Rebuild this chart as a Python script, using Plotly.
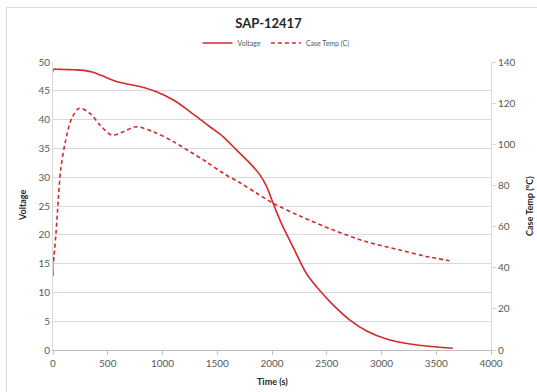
import plotly.graph_objects as go

# ---- data ----
time_voltage = [0, 5, 30, 100, 200, 280, 350, 450, 580, 700, 800, 950, 1100, 1250,
                1430, 1555, 1677, 1800, 1890, 1950, 2000, 2045, 2088, 2194, 2317,
                2438, 2560, 2712, 2865, 3047, 3260, 3450, 3650]
voltage = [12.8, 48.7, 48.75, 48.7, 48.65, 48.55, 48.3, 47.6, 46.6, 46.1, 45.7, 44.8,
           43.4, 41.4, 38.8, 37.0, 34.7, 32.4, 30.4, 28.4, 26.0, 23.8, 21.9, 17.8,
           13.2, 10.3, 7.8, 5.2, 3.3, 1.9, 1.04, 0.6, 0.3]

time_temp = [5, 10, 27, 48, 70, 110, 171, 240, 338, 429, 536, 642, 755, 916, 1099,
             1251, 1400, 1555, 1708, 1860, 2012, 2256, 2560, 2865, 3169, 3400, 3620]
case_temp = [43, 46, 56.7, 72.9, 87.5, 100.5, 112.6, 117.5, 115, 109.4, 104.5, 106.1,
             108.5, 106.1, 101.3, 96.4, 91.5, 85.9, 81.3, 76.2, 71.3, 65.1, 58.3,
             52.6, 48.6, 45.6, 43.4]

x_ticks = [0, 500, 1000, 1500, 2000, 2500, 3000, 3500, 4000]
y_ticks = [0, 5, 10, 15, 20, 25, 30, 35, 40, 45, 50]
y2_ticks = [0, 20, 40, 60, 80, 100, 120, 140]

RED = "#d02a2a"
FONT = "Lato, 'Open Sans', sans-serif"
TICKC = "#595959"
GRID = "#d9d9d9"
TITLEC = "#262626"

fig = go.Figure()
fig.add_trace(go.Scatter(x=time_voltage, y=voltage, name="Voltage", mode="lines",
                         line=dict(color=RED, width=1.6, shape="spline", smoothing=0.9)))
fig.add_trace(go.Scatter(x=time_temp, y=case_temp, name="Case Temp (C)", mode="lines",
                         yaxis="y2",
                         line=dict(color=RED, width=1.6, dash="4px,3px",
                                   shape="spline", smoothing=0.9)))

W, H = 537, 392
L, R, T, B = 53, 491, 62, 350
pw, ph = R - L, B - T

def px_x(p):
    return (p - L) / pw

def px_y(p):
    return (B - p) / ph

axis_title_font = dict(family=FONT, size=9, color=TITLEC)

fig.update_layout(
    width=W, height=H,
    margin=dict(l=L, r=W - R, t=T, b=H - B),
    paper_bgcolor="white", plot_bgcolor="white",
    font=dict(family=FONT, color=TICKC, size=10),
    title=dict(text="<b>SAP-12417</b>", x=0.5, xanchor="center",
               y=1 - 23 / H, yanchor="middle",
               font=dict(family=FONT, size=13, color=TITLEC)),
    showlegend=True,
    legend=dict(orientation="h", x=px_x(276), xanchor="center",
                y=px_y(43), yanchor="middle",
                font=dict(family=FONT, size=7, color=TICKC),
                bgcolor="rgba(0,0,0,0)", itemwidth=30, tracegroupgap=0),
    xaxis=dict(range=[0, 4000], tickvals=x_ticks, showgrid=False, zeroline=False,
               showline=True, linecolor="#bfbfbf", linewidth=1,
               ticks="outside", ticklen=4, tickcolor="#bfbfbf",
               tickfont=dict(size=10, color=TICKC)),
    yaxis=dict(range=[0, 50], tickvals=y_ticks, showgrid=True, gridcolor=GRID,
               gridwidth=1, zeroline=False, showline=True, linecolor=GRID,
               ticks="", tickfont=dict(size=10, color=TICKC)),
    yaxis2=dict(range=[0, 140], tickvals=y2_ticks, overlaying="y", side="right",
                showgrid=False, zeroline=False, showline=True, linecolor=GRID,
                ticks="outside", ticklen=4, tickcolor=GRID,
                tickfont=dict(size=10, color=TICKC)),
    annotations=[
        dict(text="<b>Time (s)</b>", xref="paper", yref="paper",
             x=px_x(272), y=px_y(381), xanchor="center", yanchor="middle",
             showarrow=False, font=axis_title_font),
        dict(text="<b>Voltage</b>", xref="paper", yref="paper",
             x=px_x(22), y=px_y(205), xanchor="center", yanchor="middle",
             textangle=-90, showarrow=False, font=axis_title_font),
        dict(text="<b>Case Temp (°C)</b>", xref="paper", yref="paper",
             x=px_x(529), y=px_y(206), xanchor="center", yanchor="middle",
             textangle=-90, showarrow=False, font=axis_title_font),
    ],
    shapes=[dict(type="rect", xref="paper", yref="paper",
                 x0=px_x(6.5), x1=px_x(545), y0=px_y(400), y1=px_y(7.5),
                 line=dict(color=GRID, width=1), fillcolor="rgba(0,0,0,0)",
                 layer="below")],
)

fig.write_html("out.html")
